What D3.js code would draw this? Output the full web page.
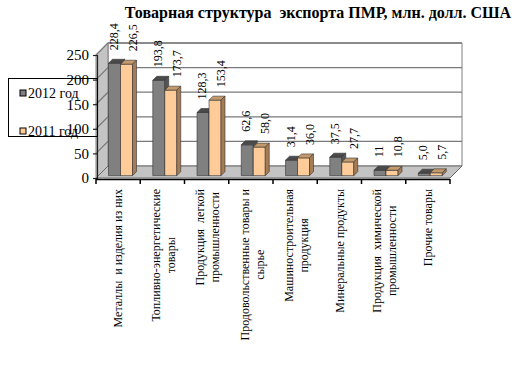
<!DOCTYPE html>
<html>
<head>
<meta charset="utf-8">
<script src="https://cdn.jsdelivr.net/npm/d3@7"></script>
<style>
  body { margin: 0; background: #fff; }
  svg text { font-family: "Liberation Serif", "Times New Roman", serif; }
</style>
</head>
<body>
<div id="chart"></div>
<script>
var categories = [
    ["Металлы  и изделия из них"],
    ["Топливно-энергетические", "товары"],
    ["Продукция  легкой", "промышленности"],
    ["Продовольственные товары и", "сырье"],
    ["Машиностроительная", "продукция"],
    ["Минеральные продукты"],
    ["Продукция  химической", "промышленности"],
    ["Прочие товары"]
];
var series_names = ["2012 год", "2011 год"];
var values_2012 = [228.4, 193.8, 128.3, 62.6, 31.4, 37.5, 11, 5.0];
var values_2011 = [226.5, 173.7, 153.4, 58.0, 36.0, 27.7, 10.8, 5.7];
var labels_2012 = ["228,4", "193,8", "128,3", "62,6", "31,4", "37,5", "11", "5,0"];
var labels_2011 = ["226,5", "173,7", "153,4", "58,0", "36,0", "27,7", "10,8", "5,7"];
var y_ticks = [0, 50, 100, 150, 200, 250];

var face_color = {
    "2012": {front: "#808080", top: "#4a4a4a", side: "#565656"},
    "2011": {front: "#ffcc99", top: "#c49a6c", side: "#a57c55"}
};

var width = 514, height = 373;
var depth = 12;            // 3d offset of the back wall
var f0 = 0.2, f1 = 0.53;   // depth of bars (front / back)
var bw = 12;               // bar width

var svg = d3.select('#chart').append('svg')
    .attr('width', width)
    .attr('height', height);

var x = d3.scaleBand()
    .domain(d3.range(categories.length))
    .range([96, 450]);
var y = d3.scaleLinear()
    .domain([0, 250])
    .range([178, 55]);

// projected point at depth f
function p(xv, v, f){
    return [xv + depth*f, y(v) - depth*f];
}
function poly(pts){
    return pts.map(function(d){return d[0] + "," + d[1];}).join(" ");
}

var x0 = x.range()[0], x1 = x.range()[1];

// back wall
svg.append('polygon')
    .attr('points', poly([p(x0, 0, 1), p(x1, 0, 1), p(x1, 250, 1), p(x0, 250, 1)]))
    .attr('fill', 'white')
    .attr('stroke', '#808080')
    .attr('stroke-width', 1);

// side wall
svg.append('polygon')
    .attr('points', poly([p(x0, 0, 0), p(x0, 0, 1), p(x0, 250, 1), p(x0, 250, 0)]))
    .attr('fill', '#c4c4c4')
    .attr('stroke', '#808080')
    .attr('stroke-width', 1);

// gridlines: side wall + back wall
var grid = svg.append('g').attr('class', 'grid');
grid.selectAll('polyline')
    .data(y_ticks.slice(1))
    .enter()
    .append('polyline')
    .attr('points', function(d){return poly([p(x0, d, 0), p(x0, d, 1), p(x1, d, 1)]);})
    .attr('fill', 'none')
    .attr('stroke', '#7a7a7a')
    .attr('stroke-width', 1.3);

// floor
svg.append('polygon')
    .attr('points', poly([p(x0, 0, 0), p(x1, 0, 0), p(x1, 0, 1), p(x0, 0, 1)]))
    .attr('fill', '#c4c4c4')
    .attr('stroke', '#6a6a6a')
    .attr('stroke-width', 1);

// bars
var bars = [];
for (let i = 0; i < categories.length; i++){
    bars.push({s: "2012", i: i, v: values_2012[i], label: labels_2012[i], k: 0});
    bars.push({s: "2011", i: i, v: values_2011[i], label: labels_2011[i], k: 1});
}
function barX(d){
    return x(d.i) + x.bandwidth()/2 - bw + d.k*bw;
}
var bar_g = svg.append('g').attr('class', 'bars')
    .selectAll('g')
    .data(bars)
    .enter()
    .append('g');
bar_g.append('polygon')   // front
    .attr('points', function(d){var a = barX(d), b = a + bw;
        return poly([p(a, 0, f0), p(b, 0, f0), p(b, d.v, f0), p(a, d.v, f0)]);})
    .attr('fill', function(d){return face_color[d.s].front;});
bar_g.append('polygon')   // top
    .attr('points', function(d){var a = barX(d), b = a + bw;
        return poly([p(a, d.v, f0), p(b, d.v, f0), p(b, d.v, f1), p(a, d.v, f1)]);})
    .attr('fill', function(d){return face_color[d.s].top;});
bar_g.append('polygon')   // side
    .attr('points', function(d){var b = barX(d) + bw;
        return poly([p(b, 0, f0), p(b, 0, f1), p(b, d.v, f1), p(b, d.v, f0)]);})
    .attr('fill', function(d){return face_color[d.s].side;});
bar_g.selectAll('polygon')
    .attr('stroke', '#333')
    .attr('stroke-width', 0.6)
    .attr('stroke-linejoin', 'round');

// value labels (rotated)
bar_g.append('text')
    .attr('transform', function(d){
        var t = p(barX(d) + bw/2 + (d.k ? 2 : -5), d.v, f1);
        return 'translate(' + t[0] + ',' + (t[1] - 9) + ') rotate(-90)';})
    .attr('dy', '0.35em')
    .attr('font-size', 12)
    .attr('fill', 'black')
    .text(function(d){return d.label;});

// y axis (front edge)
var yAxis = svg.append('g')
    .attr('transform', 'translate(' + (x0 + 1) + ',0)')
    .call(d3.axisLeft(y).tickValues(y_ticks).tickSize(4).tickPadding(4).tickFormat(d3.format('d')));
yAxis.select('.domain').attr('stroke', '#222').attr('stroke-width', 1.2);
yAxis.selectAll('.tick line').attr('stroke', '#222').attr('stroke-width', 1.2);
yAxis.selectAll('.tick text')
    .attr('font-family', '"Liberation Serif", serif')
    .attr('font-size', 15)
    .attr('fill', 'black');

// x axis line and ticks at band edges
var edges = d3.range(categories.length).map(function(i){return x(i);}).concat([x1]);
var xAxis = svg.append('g').attr('class', 'x-axis');
xAxis.append('line')
    .attr('x1', x0).attr('x2', x1)
    .attr('y1', 179.5).attr('y2', 179.5)
    .attr('stroke', 'black').attr('stroke-width', 1.5);
xAxis.selectAll('.xtick')
    .data(edges)
    .enter()
    .append('line')
    .attr('x1', function(d){return d;}).attr('x2', function(d){return d;})
    .attr('y1', 179).attr('y2', 184)
    .attr('stroke', 'black').attr('stroke-width', 1.5);

// category labels, rotated, block anchored at the top
var cat_top = 189, line_gap = 15;
var cat_g = svg.append('g').attr('class', 'cat-labels')
    .selectAll('g')
    .data(categories)
    .enter()
    .append('g');
cat_g.each(function(lines, i){
    var g = d3.select(this);
    var cx = x(i) + x.bandwidth()/2;
    var texts = g.selectAll('text')
        .data(lines)
        .enter()
        .append('text')
        .attr('font-size', 12)
        .attr('fill', 'black')
        .style('white-space', 'pre')
        .attr('text-anchor', 'middle')
        .attr('dy', '0.35em')
        .text(function(d){return d;});
    var maxLen = 0;
    texts.each(function(){maxLen = Math.max(maxLen, this.getComputedTextLength());});
    var n = lines.length;
    texts.attr('transform', function(d, j){
        var lx = cx + (j - (n - 1)/2) * line_gap + (n > 1 ? 1 : 0);
        return 'translate(' + lx + ',' + (cat_top + maxLen/2) + ') rotate(-90)';
    });
});

// title
svg.append('text')
    .attr('x', 318)
    .attr('y', 18)
    .attr('text-anchor', 'middle')
    .attr('font-size', 16)
    .attr('font-weight', 'bold')
    .style('white-space', 'pre')
    .text('Товарная структура  экспорта ПМР, млн. долл. США');

// legend (no fill, drawn over the axis labels)
var legend = svg.append('g').attr('class', 'legend');
legend.append('rect')
    .attr('x', 8.5).attr('y', 78.5)
    .attr('width', 89).attr('height', 58)
    .attr('fill', 'none')
    .attr('stroke', 'black')
    .attr('stroke-width', 1);
var leg_items = legend.selectAll('g')
    .data(series_names)
    .enter()
    .append('g')
    .attr('transform', function(d, i){return 'translate(20,' + (i ? 128 : 90) + ')';});
leg_items.append('rect')
    .attr('width', 6).attr('height', 6)
    .attr('fill', function(d, i){return i ? face_color["2011"].front : face_color["2012"].front;})
    .attr('stroke', 'black')
    .attr('stroke-width', 1);
leg_items.append('text')
    .attr('x', 8)
    .attr('y', 7.5)
    .attr('font-size', 14)
    .attr('fill', 'black')
    .text(function(d){return d;});
</script>
</body>
</html>
